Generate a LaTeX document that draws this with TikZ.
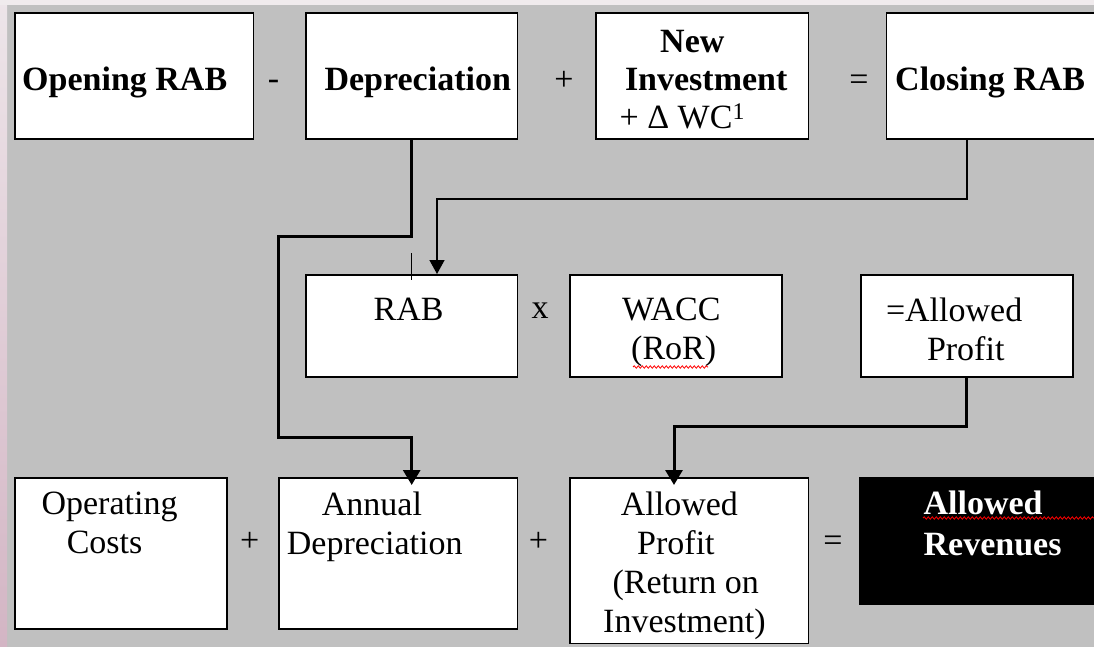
\documentclass[tikz,border=0pt]{standalone}
\usepackage{fontspec}
\setmainfont{Liberation Serif}
\usepackage{tikz}
\usetikzlibrary{arrows.meta, decorations.pathmorphing}
\definecolor{slideGray}{HTML}{C0C0C0}
\definecolor{slideTop}{HTML}{F0EBED}
\definecolor{slidePinkA}{HTML}{EDE5E9}
\definecolor{slidePinkB}{HTML}{D3B5C4}

\tikzset{
  box/.style={draw=black, line width=1.8pt, fill=white, anchor=north west, inner sep=0pt},
  headtxt/.style={font=\fontsize{34}{38}\selectfont\bfseries, inner sep=0pt, align=left, anchor=north west},
  bodytxt/.style={font=\fontsize{34}{39}\selectfont, inner sep=0pt, align=left, anchor=north west},
  oper/.style={font=\fontsize{34}{39}\selectfont, inner sep=0pt, anchor=base},
  link/.style={->, >={Triangle[width=15pt, length=14pt]}, line width=1.5pt},
  heavylink/.style={->, >={Triangle[width=17pt, length=15pt]}, line width=3pt},
  spell/.style={red, line width=0.8pt, decorate, decoration={snake, amplitude=1.2pt, segment length=4pt}}
}

\begin{document}
\begin{tikzpicture}[x=1pt, y=-1pt]
  \useasboundingbox (0,0) rectangle (1094,647);
  % slide background
  \fill[slideGray] (0,0) rectangle (1094,647);
  \shade[top color=slidePinkA, bottom color=slidePinkB] (0,0) rectangle (7,647);
  \fill[slideTop] (0,0) rectangle (1094,5);

  % RAB roll forward
  \node[box, minimum width=238.5pt, minimum height=126pt] (opnrab) at (14,12) {};
  \node[box, minimum width=211.6pt, minimum height=126pt] (dep) at (305,12) {};
  \node[box, minimum width=212.5pt, minimum height=126pt] (newinv) at (595,12) {};
  \node[box, minimum width=224pt, minimum height=126pt] (clsrab) at (885.6,12) {};
  \node[headtxt, xshift=8pt, yshift=-55pt] (opnrab-t) at (opnrab.north west) {Opening RAB};
  \node[headtxt, xshift=19.4pt, yshift=-55pt] (dep-t) at (dep.north west) {Depreciation};
  \node[headtxt, xshift=24.5pt, yshift=-18.5pt] (newinv-t) at (newinv.north west)
    {\hspace*{40.5pt}New\\ \hspace*{5.3pt}Investment\\ {\mdseries + Δ WC\textsuperscript{1}}};
  \node[headtxt, xshift=9.4pt, yshift=-55pt] (clsrab-t) at (clsrab.north west) {Closing RAB};
  \node[oper] (minus) at (273.6,90) {-};
  \node[oper] (plusA) at (564,91) {+};
  \node[oper] (eqA) at (859,91) {=};

  % return on the asset base
  \node[box, minimum width=211.6pt, minimum height=102pt] (rab) at (305,274) {};
  \node[box, minimum width=212pt, minimum height=102pt] (wacc) at (569,274) {};
  \node[box, minimum width=212pt, minimum height=102pt] (allprof) at (859.8,274) {};
  \node[bodytxt, xshift=68.5pt, yshift=-24pt] (rab-t) at (rab.north west) {RAB};
  \node[bodytxt, xshift=53pt, yshift=-24pt] (wacc-t) at (wacc.north west) {WACC\\ \hspace*{9pt}(RoR)};
  \node[bodytxt, xshift=26pt, yshift=-24pt] (allprof-t) at (allprof.north west) {=Allowed\\ \hspace*{41pt}Profit};
  \node[oper] (times) at (540,318) {x};

  % revenue build up
  \node[box, minimum width=212pt, minimum height=151pt] (opcost) at (14,477) {};
  \node[box, minimum width=238.6pt, minimum height=151pt] (anndep) at (278,477) {};
  \node[box, minimum width=238.5pt, minimum height=165.5pt] (retinv) at (569,477) {};
  \node[box, fill=black, minimum width=240pt, minimum height=126pt] (allrev) at (859,477) {};
  \node[bodytxt, xshift=27.4pt, yshift=-15pt] (opcost-t) at (opcost.north west) {Operating\\ \hspace*{25.2pt}Costs};
  \node[bodytxt, xshift=8.7pt, yshift=-15pt] (anndep-t) at (anndep.north west) {\hspace*{35pt}Annual\\ Depreciation};
  \node[bodytxt, xshift=34pt, yshift=-14.5pt] (retinv-t) at (retinv.north west)
    {\hspace*{17.6pt}Allowed\\ \hspace*{34pt}Profit\\ \hspace*{9.4pt}(Return on\\ Investment)};
  \node[headtxt, white, font=\fontsize{34}{41}\selectfont\bfseries, xshift=64.4pt, yshift=-14pt] (allrev-t)
    at (allrev.north west) {Allowed\\ Revenues};
  \node[oper] (plusB) at (249.7,551) {+};
  \node[oper] (plusC) at (538.4,551) {+};
  \node[oper] (eqB) at (833,551) {=};

  % links
  \coordinate (depbendA) at (278,236);
  \coordinate (depbendB) at (278,437);
  \coordinate (clsbend) at (437,199);
  \coordinate (profbend) at (674,426);
  \draw[heavylink, shorten >=-8pt] (dep.south) |- (depbendA) -- (depbendB) -| (anndep.north -| dep.south);
  \draw[link] ([xshift=-31.6pt]clsrab.south) |- (clsbend) -- (clsbend |- rab.north);
  \draw[heavylink, shorten >=-8pt] (allprof.south) |- (profbend) -- (profbend |- retinv.north);
  \draw[line width=1.2pt] ([yshift=21pt]rab.north) -- ([yshift=-6pt]rab.north);

  % spell check marks
  \draw[spell] (633,367) -- (708,367);
  \draw[spell] (923,518) -- (1094,518);
\end{tikzpicture}
\end{document}
